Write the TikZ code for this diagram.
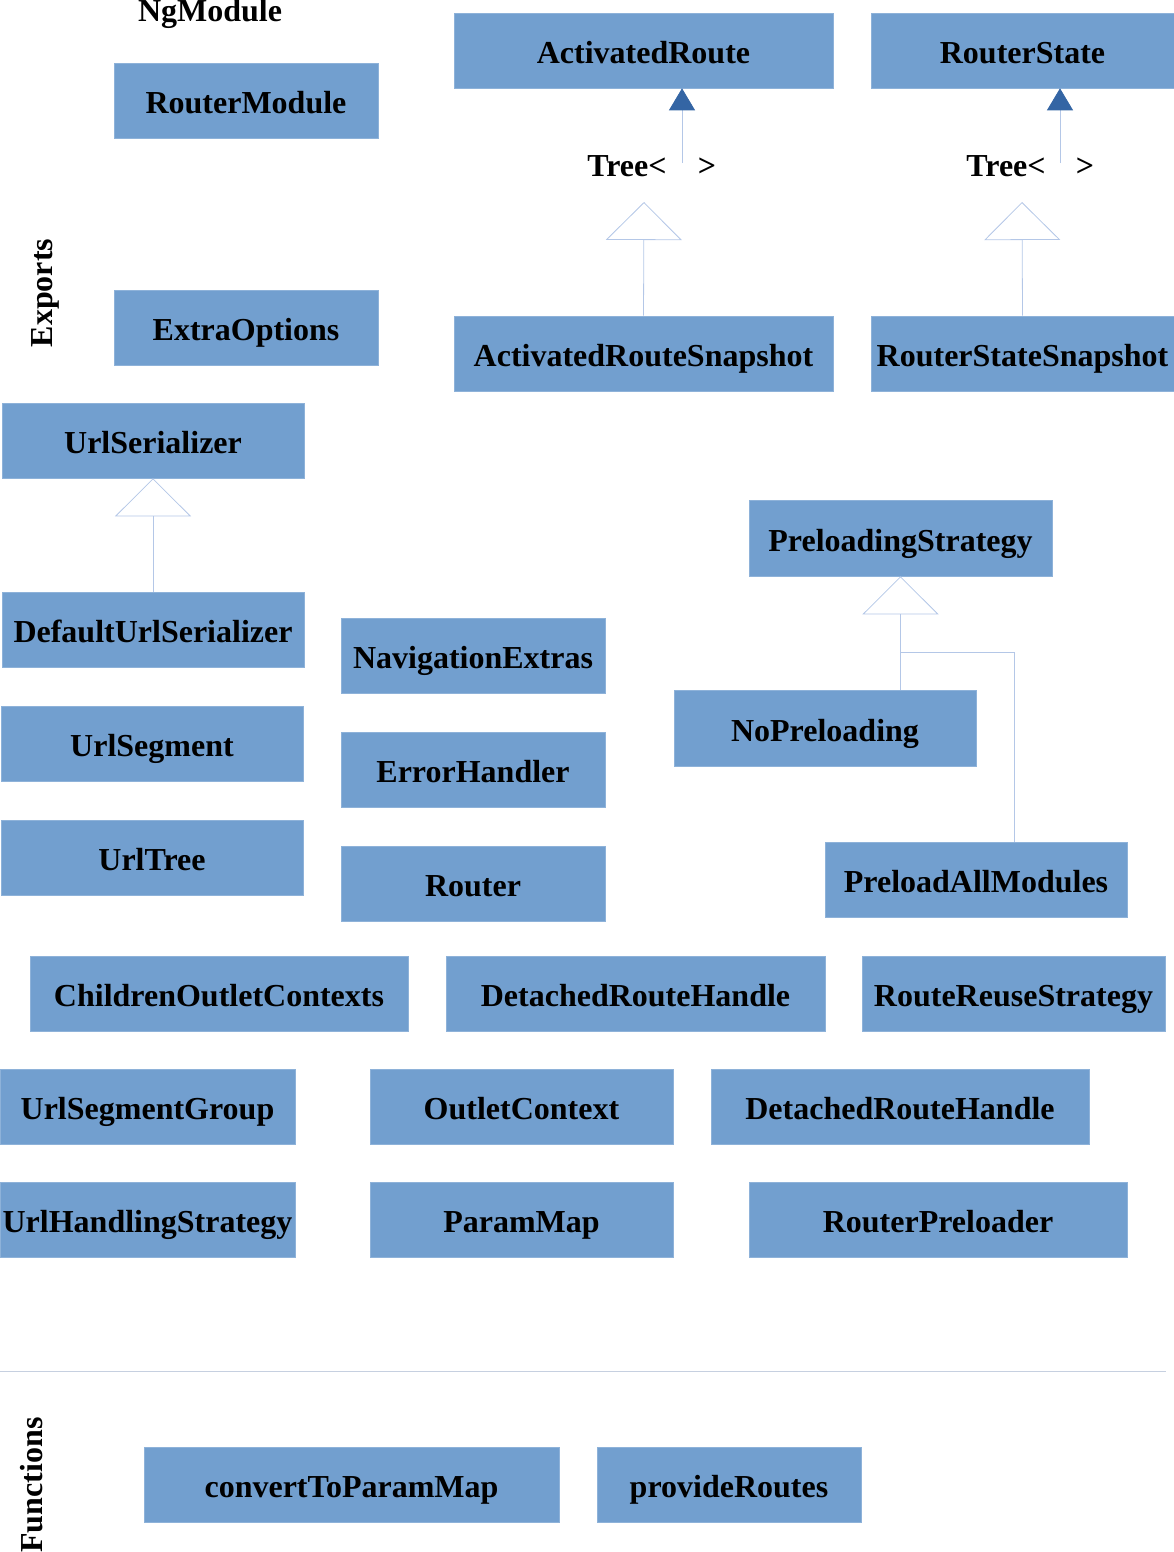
\documentclass[tikz,border=0pt]{standalone}
\usepackage{fontspec}
\setmainfont{Liberation Serif}
\usetikzlibrary{arrows.meta}
\definecolor{boxblue}{HTML}{729FCF}
\definecolor{linkblue}{HTML}{B4C7E7}
\definecolor{tipblue}{HTML}{3465A4}
\definecolor{sepgray}{HTML}{C6D0E0}
\tikzset{
  box/.style={fill=boxblue, draw=boxblue!80!white, line width=0.6pt, minimum height=75pt, inner sep=0pt,
    text height=30pt, text depth=4pt,
    font=\fontsize{32}{36}\selectfont\bfseries, text=black},
  lbl/.style={font=\fontsize{32}{36}\selectfont\bfseries, inner sep=0pt, text=black},
  link/.style={draw=linkblue, line width=0.8pt},
  gen/.style={link, -{Triangle[length=38pt,width=76pt,fill=white,line width=0.8pt]}},
  dep/.style={link, -{Triangle[length=22pt,width=26pt,fill=tipblue,color=tipblue]}},
}
\begin{document}
\begin{tikzpicture}[x=1pt,y=-1pt]
\useasboundingbox (0,0) rectangle (1174,1552);
% section labels
\node[lbl, anchor=base] (ngm) at (210,22) {NgModule};
\node[lbl, rotate=90] (exports) at (45,293) {Exports};
\node[lbl, rotate=90] (functions) at (32,1485) {Functions};
% boxes
\node[box, minimum width=264pt] (RM) at (246,100.5) {RouterModule};
\node[box, minimum width=264pt] (EO) at (246,327.5) {ExtraOptions};
\node[box, minimum width=379pt] (AR) at (643.5,50.5) {ActivatedRoute};
\node[box, minimum width=303pt] (RS) at (1022.5,50.5) {RouterState};
\node[box, minimum width=379pt] (ARS) at (643.5,353.5) {ActivatedRouteSnapshot};
\node[box, minimum width=303pt] (RSS) at (1022.5,353.5) {RouterStateSnapshot};
\node[box, minimum width=302pt] (US) at (153,440.5) {UrlSerializer};
\node[box, minimum width=302pt] (DUS) at (153,629.5) {DefaultUrlSerializer};
\node[box, minimum width=264pt] (NE) at (473,655.5) {NavigationExtras};
\node[box, minimum width=302pt] (USeg) at (152,743.5) {UrlSegment};
\node[box, minimum width=264pt] (EH) at (473,769.5) {ErrorHandler};
\node[box, minimum width=302pt] (UT) at (152,857.5) {UrlTree};
\node[box, minimum width=264pt] (R) at (473,883.5) {Router};
\node[box, minimum width=303pt, minimum height=76pt] (PS) at (900.5,538) {PreloadingStrategy};
\node[box, minimum width=302pt, minimum height=76pt] (NP) at (825,728) {NoPreloading};
\node[box, minimum width=302pt] (PAM) at (976,879.5) {PreloadAllModules};
\node[box, minimum width=378pt] (COC) at (219,993.5) {ChildrenOutletContexts};
\node[box, minimum width=379pt] (DRH) at (635.5,993.5) {DetachedRouteHandle};
\node[box, minimum width=303pt] (RRS) at (1013.5,993.5) {RouteReuseStrategy};
\node[box, minimum width=295pt] (USG) at (147.5,1106.5) {UrlSegmentGroup};
\node[box, minimum width=303pt] (OC) at (521.5,1106.5) {OutletContext};
\node[box, minimum width=378pt] (DRHb) at (900,1106.5) {DetachedRouteHandle};
\node[box, minimum width=295pt] (UHS) at (147.5,1219.5) {UrlHandlingStrategy};
\node[box, minimum width=303pt] (PM) at (521.5,1219.5) {ParamMap};
\node[box, minimum width=378pt] (RP) at (938,1219.5) {RouterPreloader};
\node[box, minimum width=415pt] (CTPM) at (351.5,1484.5) {convertToParamMap};
\node[box, minimum width=264pt] (PR) at (729,1484.5) {provideRoutes};
% Tree< > labels
\node[lbl, anchor=base] (treeA) at (627,176) {Tree<};
\node[lbl, anchor=base] (treeAc) at (707,176) {>};
\node[lbl, anchor=base] (treeB) at (1006,176) {Tree<};
\node[lbl, anchor=base] (treeBc) at (1085,176) {>};
% coordinates
\coordinate (aApex) at (644,202);
\coordinate (aTop) at (682,163);
\coordinate (bApex) at (1022,202);
\coordinate (bTop) at (1060,163);
\coordinate (branch) at (900,652);
\coordinate (pamTop) at (1014,842);
\coordinate (sepL) at (0,1371);
\coordinate (sepR) at (1166,1371);
% connectors
\draw[dep] (aTop) -- (aTop |- AR.south);
\draw[gen] (ARS.north) -- (aApex);
\draw[dep] (bTop) -- (bTop |- RS.south);
\draw[gen] (RSS.north) -- (bApex);
\draw[gen] (DUS.north) -- (US.south);
\draw[gen] (NP.north -| PS.south) -- (PS.south);
\draw[link] (pamTop) |- (branch);
% separator
\draw[draw=sepgray, line width=0.8pt] (sepL) -- (sepR);
\end{tikzpicture}
\end{document}
